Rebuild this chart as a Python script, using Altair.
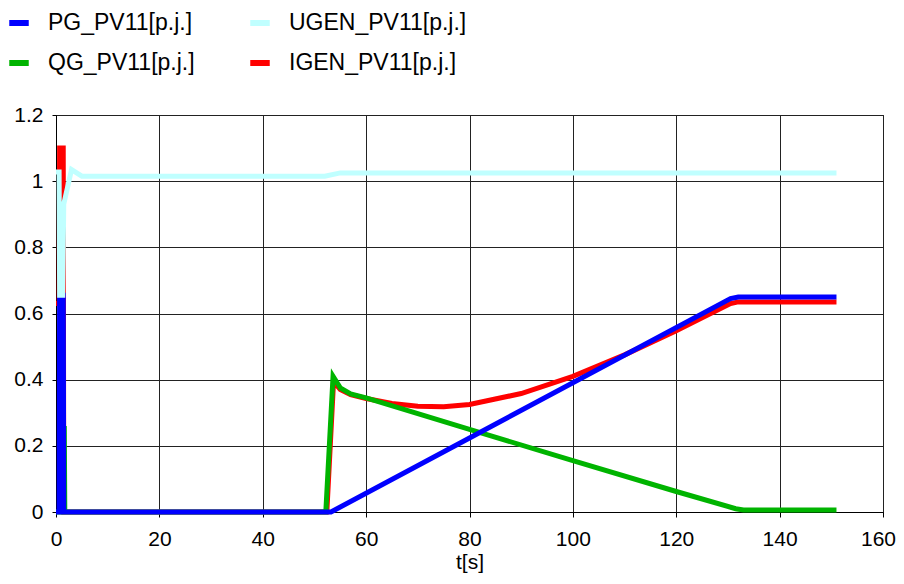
import altair as alt
import pandas as pd

names = ["PG_PV11[p.j.]", "QG_PV11[p.j.]", "UGEN_PV11[p.j.]", "IGEN_PV11[p.j.]"]
colors = ["#0000FF", "#00B400", "#C0FFFF", "#FF0000"]

pg_t = [0, 0.6, 0.7, 1.4, 1.5, 53.2, 130.5, 132, 151]
pg_v = [0, 0, 0.655, 0.655, 0, 0, 0.645, 0.65, 0.65]

qg_t = [0, 1.5, 1.6, 1.7, 52.2, 53.6, 55, 57, 60, 80, 100, 120, 131.5, 133, 151]
qg_v = [0, 0, 0.26, 0, 0, 0.41, 0.375, 0.357, 0.345, 0.25, 0.155, 0.062, 0.01, 0.006, 0.006]

ug_t = [0, 0.6, 0.7, 1.3, 1.5, 3, 5, 52, 55, 151]
ug_v = [1.028, 1.028, 0.655, 0.655, 0.93, 1.035, 1.015, 1.015, 1.025, 1.025]

ig_t = [0, 0.6, 0.7, 1.4, 1.5, 52.4, 53.7, 55, 57, 60, 65, 70, 75, 80, 90, 100,
        110, 120, 130.5, 132, 151]
ig_v = [0.63, 0.63, 1.1, 1.1, 0, 0, 0.395, 0.37, 0.355, 0.343, 0.328, 0.32, 0.318,
        0.325, 0.358, 0.41, 0.475, 0.548, 0.63, 0.635, 0.635]

x_ticks = [0, 20, 40, 60, 80, 100, 120, 140, 160]
y_ticks = [0, 0.2, 0.4, 0.6, 0.8, 1.0, 1.2]


def make_layer(name, t, v):
    df = pd.DataFrame({"t": t, "v": v, "series": [name] * len(t)})
    return alt.Chart(df).mark_line(strokeWidth=5).encode(
        x=alt.X("t:Q", scale=alt.Scale(domain=[0, 160], nice=False, zero=False),
                axis=alt.Axis(values=x_ticks, title="t[s]", labelPadding=11,
                              titlePadding=2, tickSize=5, labelFlush=False,
                              labelOffset={"condition": {"test": "datum.value == 160",
                                                         "value": -5},
                                           "value": 0})),
        y=alt.Y("v:Q", scale=alt.Scale(domain=[0, 1.2], nice=False),
                axis=alt.Axis(values=y_ticks, format=".1~f", title=None,
                              labelPadding=9, tickSize=4)),
        color=alt.Color("series:N",
                        scale=alt.Scale(domain=names, range=colors),
                        legend=alt.Legend(title=None, orient="none", legendX=-50,
                                          legendY=-105, columns=2,
                                          symbolType="stroke", symbolSize=380,
                                          symbolStrokeWidth=6, labelFontSize=23,
                                          labelFont="Liberation Sans",
                                          labelColor="black", labelOffset=16,
                                          labelLimit=400,
                                          columnPadding=43, rowPadding=15)),
    )


chart = alt.layer(
    make_layer(names[3], ig_t, ig_v),
    make_layer(names[1], qg_t, qg_v),
    make_layer(names[0], pg_t, pg_v),
    make_layer(names[2], ug_t, ug_v),
).properties(
    width=827, height=397,
    padding={"left": 48, "top": 107, "right": 13, "bottom": 64},
    autosize=alt.AutoSizeParams(type="none"),
    background="white",
).configure_axis(
    grid=True, gridColor="#222222", gridWidth=1, gridOpacity=1,
    domainColor="black", domainWidth=1, tickColor="black",
    labelFont="Liberation Sans", labelFontSize=21, labelColor="black",
    titleFont="Liberation Sans", titleFontSize=21, titleFontWeight="normal",
    titleColor="black",
).configure_view(stroke="black", strokeWidth=1)

chart.save("out.html", embed_options={"renderer": "svg", "actions": False})
